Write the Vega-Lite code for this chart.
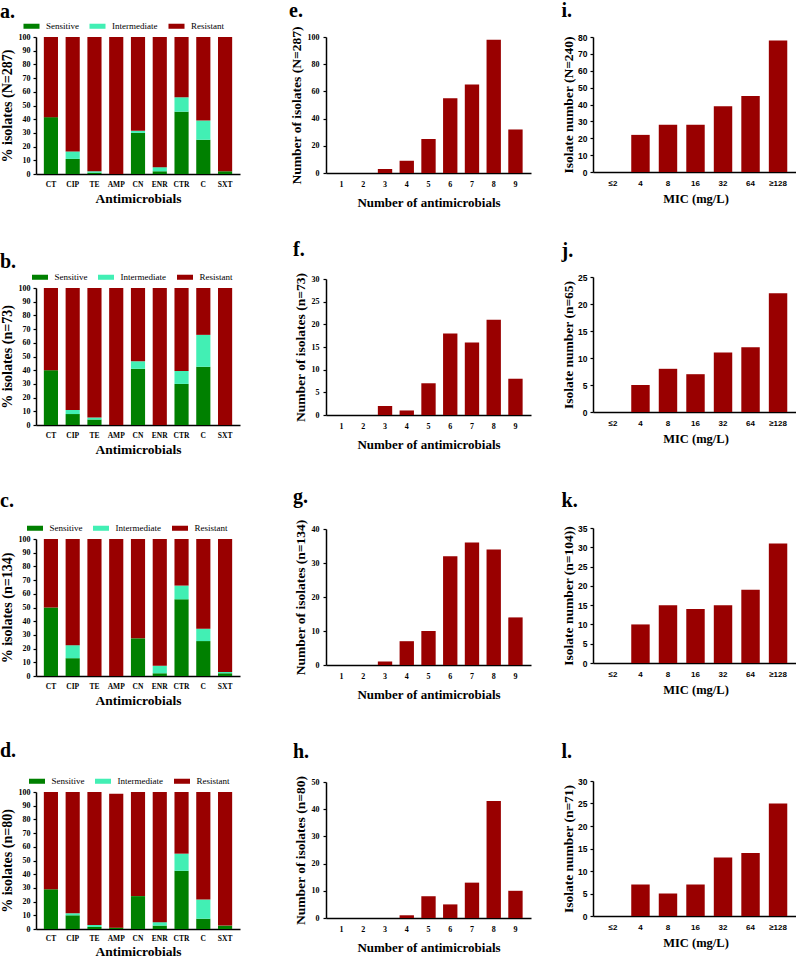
{
  "$schema": "https://vega.github.io/schema/vega-lite/v6.json",
  "padding": {"left": 0, "top": 0, "right": 0, "bottom": 0},
  "background": "white",
  "datasets": {
    "amr": [
      {"panel":"a","drug":"CT","category":"Sensitive","ord":1,"pct":41.5},
      {"panel":"a","drug":"CT","category":"Resistant","ord":3,"pct":58.5},
      {"panel":"a","drug":"CIP","category":"Sensitive","ord":1,"pct":11},
      {"panel":"a","drug":"CIP","category":"Intermediate","ord":2,"pct":5.5},
      {"panel":"a","drug":"CIP","category":"Resistant","ord":3,"pct":83.5},
      {"panel":"a","drug":"TE","category":"Sensitive","ord":1,"pct":1},
      {"panel":"a","drug":"TE","category":"Intermediate","ord":2,"pct":1},
      {"panel":"a","drug":"TE","category":"Resistant","ord":3,"pct":98},
      {"panel":"a","drug":"AMP","category":"Resistant","ord":3,"pct":100},
      {"panel":"a","drug":"CN","category":"Sensitive","ord":1,"pct":30},
      {"panel":"a","drug":"CN","category":"Intermediate","ord":2,"pct":1.5},
      {"panel":"a","drug":"CN","category":"Resistant","ord":3,"pct":68.5},
      {"panel":"a","drug":"ENR","category":"Sensitive","ord":1,"pct":2},
      {"panel":"a","drug":"ENR","category":"Intermediate","ord":2,"pct":3},
      {"panel":"a","drug":"ENR","category":"Resistant","ord":3,"pct":95},
      {"panel":"a","drug":"CTR","category":"Sensitive","ord":1,"pct":45.5},
      {"panel":"a","drug":"CTR","category":"Intermediate","ord":2,"pct":10.5},
      {"panel":"a","drug":"CTR","category":"Resistant","ord":3,"pct":44},
      {"panel":"a","drug":"C","category":"Sensitive","ord":1,"pct":25},
      {"panel":"a","drug":"C","category":"Intermediate","ord":2,"pct":14},
      {"panel":"a","drug":"C","category":"Resistant","ord":3,"pct":61},
      {"panel":"a","drug":"SXT","category":"Sensitive","ord":1,"pct":2},
      {"panel":"a","drug":"SXT","category":"Resistant","ord":3,"pct":98},

      {"panel":"b","drug":"CT","category":"Sensitive","ord":1,"pct":40},
      {"panel":"b","drug":"CT","category":"Resistant","ord":3,"pct":60},
      {"panel":"b","drug":"CIP","category":"Sensitive","ord":1,"pct":8},
      {"panel":"b","drug":"CIP","category":"Intermediate","ord":2,"pct":3},
      {"panel":"b","drug":"CIP","category":"Resistant","ord":3,"pct":89},
      {"panel":"b","drug":"TE","category":"Sensitive","ord":1,"pct":4},
      {"panel":"b","drug":"TE","category":"Intermediate","ord":2,"pct":1.5},
      {"panel":"b","drug":"TE","category":"Resistant","ord":3,"pct":94.5},
      {"panel":"b","drug":"AMP","category":"Resistant","ord":3,"pct":100},
      {"panel":"b","drug":"CN","category":"Sensitive","ord":1,"pct":41},
      {"panel":"b","drug":"CN","category":"Intermediate","ord":2,"pct":5.5},
      {"panel":"b","drug":"CN","category":"Resistant","ord":3,"pct":53.5},
      {"panel":"b","drug":"ENR","category":"Resistant","ord":3,"pct":100},
      {"panel":"b","drug":"CTR","category":"Sensitive","ord":1,"pct":30},
      {"panel":"b","drug":"CTR","category":"Intermediate","ord":2,"pct":9.5},
      {"panel":"b","drug":"CTR","category":"Resistant","ord":3,"pct":60.5},
      {"panel":"b","drug":"C","category":"Sensitive","ord":1,"pct":42.5},
      {"panel":"b","drug":"C","category":"Intermediate","ord":2,"pct":23.3},
      {"panel":"b","drug":"C","category":"Resistant","ord":3,"pct":34.2},
      {"panel":"b","drug":"SXT","category":"Resistant","ord":3,"pct":100},

      {"panel":"c","drug":"CT","category":"Sensitive","ord":1,"pct":50},
      {"panel":"c","drug":"CT","category":"Resistant","ord":3,"pct":50},
      {"panel":"c","drug":"CIP","category":"Sensitive","ord":1,"pct":13},
      {"panel":"c","drug":"CIP","category":"Intermediate","ord":2,"pct":9.5},
      {"panel":"c","drug":"CIP","category":"Resistant","ord":3,"pct":77.5},
      {"panel":"c","drug":"TE","category":"Resistant","ord":3,"pct":100},
      {"panel":"c","drug":"AMP","category":"Resistant","ord":3,"pct":100},
      {"panel":"c","drug":"CN","category":"Sensitive","ord":1,"pct":27.5},
      {"panel":"c","drug":"CN","category":"Resistant","ord":3,"pct":72.5},
      {"panel":"c","drug":"ENR","category":"Sensitive","ord":1,"pct":2},
      {"panel":"c","drug":"ENR","category":"Intermediate","ord":2,"pct":5.5},
      {"panel":"c","drug":"ENR","category":"Resistant","ord":3,"pct":92.5},
      {"panel":"c","drug":"CTR","category":"Sensitive","ord":1,"pct":56},
      {"panel":"c","drug":"CTR","category":"Intermediate","ord":2,"pct":10},
      {"panel":"c","drug":"CTR","category":"Resistant","ord":3,"pct":34},
      {"panel":"c","drug":"C","category":"Sensitive","ord":1,"pct":25.5},
      {"panel":"c","drug":"C","category":"Intermediate","ord":2,"pct":9},
      {"panel":"c","drug":"C","category":"Resistant","ord":3,"pct":65.5},
      {"panel":"c","drug":"SXT","category":"Sensitive","ord":1,"pct":2},
      {"panel":"c","drug":"SXT","category":"Intermediate","ord":2,"pct":1},
      {"panel":"c","drug":"SXT","category":"Resistant","ord":3,"pct":97},

      {"panel":"d","drug":"CT","category":"Sensitive","ord":1,"pct":29},
      {"panel":"d","drug":"CT","category":"Resistant","ord":3,"pct":71},
      {"panel":"d","drug":"CIP","category":"Sensitive","ord":1,"pct":10},
      {"panel":"d","drug":"CIP","category":"Intermediate","ord":2,"pct":1.5},
      {"panel":"d","drug":"CIP","category":"Resistant","ord":3,"pct":88.5},
      {"panel":"d","drug":"TE","category":"Sensitive","ord":1,"pct":1.5},
      {"panel":"d","drug":"TE","category":"Intermediate","ord":2,"pct":1.5},
      {"panel":"d","drug":"TE","category":"Resistant","ord":3,"pct":97},
      {"panel":"d","drug":"AMP","category":"Sensitive","ord":1,"pct":1},
      {"panel":"d","drug":"AMP","category":"Resistant","ord":3,"pct":97.7},
      {"panel":"d","drug":"CN","category":"Sensitive","ord":1,"pct":24},
      {"panel":"d","drug":"CN","category":"Resistant","ord":3,"pct":76},
      {"panel":"d","drug":"ENR","category":"Sensitive","ord":1,"pct":2.5},
      {"panel":"d","drug":"ENR","category":"Intermediate","ord":2,"pct":2.5},
      {"panel":"d","drug":"ENR","category":"Resistant","ord":3,"pct":95},
      {"panel":"d","drug":"CTR","category":"Sensitive","ord":1,"pct":42.5},
      {"panel":"d","drug":"CTR","category":"Intermediate","ord":2,"pct":12.5},
      {"panel":"d","drug":"CTR","category":"Resistant","ord":3,"pct":45},
      {"panel":"d","drug":"C","category":"Sensitive","ord":1,"pct":7.5},
      {"panel":"d","drug":"C","category":"Intermediate","ord":2,"pct":14},
      {"panel":"d","drug":"C","category":"Resistant","ord":3,"pct":78.5},
      {"panel":"d","drug":"SXT","category":"Sensitive","ord":1,"pct":2.5},
      {"panel":"d","drug":"SXT","category":"Resistant","ord":3,"pct":97.5}
    ],
    "nab": [
      {"panel":"e","n":"1","count":0},{"panel":"e","n":"2","count":0},{"panel":"e","n":"3","count":3},
      {"panel":"e","n":"4","count":9},{"panel":"e","n":"5","count":25},{"panel":"e","n":"6","count":55},
      {"panel":"e","n":"7","count":65},{"panel":"e","n":"8","count":98},{"panel":"e","n":"9","count":32},
      {"panel":"f","n":"1","count":0},{"panel":"f","n":"2","count":0},{"panel":"f","n":"3","count":2},
      {"panel":"f","n":"4","count":1},{"panel":"f","n":"5","count":7},{"panel":"f","n":"6","count":18},
      {"panel":"f","n":"7","count":16},{"panel":"f","n":"8","count":21},{"panel":"f","n":"9","count":8},
      {"panel":"g","n":"1","count":0},{"panel":"g","n":"2","count":0},{"panel":"g","n":"3","count":1},
      {"panel":"g","n":"4","count":7},{"panel":"g","n":"5","count":10},{"panel":"g","n":"6","count":32},
      {"panel":"g","n":"7","count":36},{"panel":"g","n":"8","count":34},{"panel":"g","n":"9","count":14},
      {"panel":"h","n":"1","count":0},{"panel":"h","n":"2","count":0},{"panel":"h","n":"3","count":0},
      {"panel":"h","n":"4","count":1},{"panel":"h","n":"5","count":8},{"panel":"h","n":"6","count":5},
      {"panel":"h","n":"7","count":13},{"panel":"h","n":"8","count":43},{"panel":"h","n":"9","count":10}
    ],
    "mic": [
      {"panel":"i","mic":"≤2","count":0},{"panel":"i","mic":"4","count":22},{"panel":"i","mic":"8","count":28},
      {"panel":"i","mic":"16","count":28},{"panel":"i","mic":"32","count":39},{"panel":"i","mic":"64","count":45},
      {"panel":"i","mic":"≥128","count":78},
      {"panel":"j","mic":"≤2","count":0},{"panel":"j","mic":"4","count":5},{"panel":"j","mic":"8","count":8},
      {"panel":"j","mic":"16","count":7},{"panel":"j","mic":"32","count":11},{"panel":"j","mic":"64","count":12},
      {"panel":"j","mic":"≥128","count":22},
      {"panel":"k","mic":"≤2","count":0},{"panel":"k","mic":"4","count":10},{"panel":"k","mic":"8","count":15},
      {"panel":"k","mic":"16","count":14},{"panel":"k","mic":"32","count":15},{"panel":"k","mic":"64","count":19},
      {"panel":"k","mic":"≥128","count":31},
      {"panel":"l","mic":"≤2","count":0},{"panel":"l","mic":"4","count":7},{"panel":"l","mic":"8","count":5},
      {"panel":"l","mic":"16","count":7},{"panel":"l","mic":"32","count":13},{"panel":"l","mic":"64","count":14},
      {"panel":"l","mic":"≥128","count":25}
    ]
  },
  "resolve": {"scale": {"color": "independent"}, "legend": {"color": "independent"}},
  "spacing": 48,
  "hconcat": [
    {
      "spacing": 47,
      "resolve": {"scale": {"color": "independent"}, "legend": {"color": "independent"}},
      "vconcat": [
        {
          "width": 204, "height": 137,
          "title": {"text": "a.", "offset": 0},
          "data": {"name": "amr"},
          "transform": [{"filter": "datum.panel === 'a'"}],
          "mark": {"type": "bar"},
          "encoding": {
            "x": {"field": "drug", "type": "nominal", "sort": ["CT","CIP","TE","AMP","CN","ENR","CTR","C","SXT"], "scale": {"paddingInner": 0.35, "paddingOuter": 0.36}, "axis": {"title": "Antimicrobials", "labelFontSize": 7.5, "labelPadding": 6, "titleFontSize": 13.5, "titlePadding": 4}},
            "y": {"field": "pct", "type": "quantitative", "stack": "zero", "scale": {"domain": [0, 100], "nice": false}, "axis": {"title": "% isolates (N=287)", "values": [0,10,20,30,40,50,60,70,80,90,100], "labelFontSize": 8, "titleFontSize": 14, "titlePadding": 4}},
            "color": {"field": "category", "type": "nominal", "scale": {"domain": ["Sensitive","Intermediate","Resistant"], "range": ["#008000","#42EFB4","#990000"]}, "legend": {"legendX": -9, "legendY": -15.5}},
            "order": {"field": "ord", "type": "quantitative"}
          }
        },
        {
          "spacing": 35,
          "resolve": {"scale": {"color": "independent"}, "legend": {"color": "independent"}},
          "vconcat": [
            {
              "width": 204, "height": 137,
              "title": {"text": "b.", "offset": 0.5},
              "data": {"name": "amr"},
              "transform": [{"filter": "datum.panel === 'b'"}],
              "mark": {"type": "bar"},
              "encoding": {
                "x": {"field": "drug", "type": "nominal", "sort": ["CT","CIP","TE","AMP","CN","ENR","CTR","C","SXT"], "scale": {"paddingInner": 0.35, "paddingOuter": 0.36}, "axis": {"title": "Antimicrobials", "labelFontSize": 7.5, "labelPadding": 6, "titleFontSize": 13.5, "titlePadding": 4}},
                "y": {"field": "pct", "type": "quantitative", "stack": "zero", "scale": {"domain": [0, 100], "nice": false}, "axis": {"title": "% isolates (n=73)", "values": [0,10,20,30,40,50,60,70,80,90,100], "labelFontSize": 8, "titleFontSize": 14, "titlePadding": 4}},
                "color": {"field": "category", "type": "nominal", "scale": {"domain": ["Sensitive","Intermediate","Resistant"], "range": ["#008000","#42EFB4","#990000"]}, "legend": {"legendX": -0.5, "legendY": -15.5}},
                "order": {"field": "ord", "type": "quantitative"}
              }
            },
            {
              "spacing": 34,
              "resolve": {"scale": {"color": "independent"}, "legend": {"color": "independent"}},
              "vconcat": [
                {
                  "width": 204, "height": 137,
                  "title": {"text": "c.", "offset": 12.5},
                  "data": {"name": "amr"},
                  "transform": [{"filter": "datum.panel === 'c'"}],
                  "mark": {"type": "bar"},
                  "encoding": {
                    "x": {"field": "drug", "type": "nominal", "sort": ["CT","CIP","TE","AMP","CN","ENR","CTR","C","SXT"], "scale": {"paddingInner": 0.35, "paddingOuter": 0.36}, "axis": {"title": "Antimicrobials", "labelFontSize": 7.5, "labelPadding": 6, "titleFontSize": 13.5, "titlePadding": 4}},
                    "y": {"field": "pct", "type": "quantitative", "stack": "zero", "scale": {"domain": [0, 100], "nice": false}, "axis": {"title": "% isolates (n=134)", "values": [0,10,20,30,40,50,60,70,80,90,100], "labelFontSize": 8, "titleFontSize": 14, "titlePadding": 4}},
                    "color": {"field": "category", "type": "nominal", "scale": {"domain": ["Sensitive","Intermediate","Resistant"], "range": ["#008000","#42EFB4","#990000"]}, "legend": {"legendX": -5.5, "legendY": -15.5}},
                    "order": {"field": "ord", "type": "quantitative"}
                  }
                },
                {
                  "width": 204, "height": 137,
                  "title": {"text": "d.", "offset": 15.5},
                  "data": {"name": "amr"},
                  "transform": [{"filter": "datum.panel === 'd'"}],
                  "mark": {"type": "bar"},
                  "encoding": {
                    "x": {"field": "drug", "type": "nominal", "sort": ["CT","CIP","TE","AMP","CN","ENR","CTR","C","SXT"], "scale": {"paddingInner": 0.35, "paddingOuter": 0.36}, "axis": {"title": "Antimicrobials", "labelFontSize": 7.5, "labelPadding": 5, "titleFontSize": 13.5, "titlePadding": 3}},
                    "y": {"field": "pct", "type": "quantitative", "stack": "zero", "scale": {"domain": [0, 100], "nice": false}, "axis": {"title": "% isolates (n=80)", "values": [0,10,20,30,40,50,60,70,80,90,100], "labelFontSize": 8, "titleFontSize": 14, "titlePadding": 4}},
                    "color": {"field": "category", "type": "nominal", "scale": {"domain": ["Sensitive","Intermediate","Resistant"], "range": ["#008000","#42EFB4","#990000"]}, "legend": {"legendX": -3.5, "legendY": -15.5}},
                    "order": {"field": "ord", "type": "quantitative"}
                  }
                }
              ]
            }
          ]
        }
      ]
    },
    {
      "spacing": 30,
      "hconcat": [
        {
          "spacing": 29,
          "vconcat": [
            {
              "width": 205, "height": 136,
              "title": {"text": "e.", "offset": 5},
              "data": {"name": "nab"},
              "transform": [{"filter": "datum.panel === 'e'"}],
              "mark": {"type": "bar", "color": "#990000"},
              "encoding": {
                "x": {"field": "n", "type": "ordinal", "scale": {"paddingInner": 0.34, "paddingOuter": 0.385}, "axis": {"title": "Number of antimicrobials", "labelFontSize": 8, "labelPadding": 7.5, "titleFontSize": 13, "titlePadding": 8}},
                "y": {"field": "count", "type": "quantitative", "scale": {"domain": [0, 100], "nice": false}, "axis": {"title": "Number of isolates (N=287)", "values": [0,20,40,60,80,100], "labelFontSize": 8, "labelPadding": 4, "titleFontSize": 13.5, "titlePadding": 4}}
              }
            },
            {
              "spacing": 35,
              "vconcat": [
                {
                  "width": 205, "height": 136,
                  "title": {"text": "f.", "offset": 12.5},
                  "data": {"name": "nab"},
                  "transform": [{"filter": "datum.panel === 'f'"}],
                  "mark": {"type": "bar", "color": "#990000"},
                  "encoding": {
                    "x": {"field": "n", "type": "ordinal", "scale": {"paddingInner": 0.34, "paddingOuter": 0.385}, "axis": {"title": "Number of antimicrobials", "labelFontSize": 8, "labelPadding": 7.5, "titleFontSize": 13, "titlePadding": 8}},
                    "y": {"field": "count", "type": "quantitative", "scale": {"domain": [0, 30], "nice": false}, "axis": {"title": "Number of isolates (n=73)", "values": [0,5,10,15,20,25,30], "labelFontSize": 8, "labelPadding": 4, "titleFontSize": 13.5, "titlePadding": 4}}
                  }
                },
                {
                  "spacing": 39,
                  "vconcat": [
                    {
                      "width": 205, "height": 136,
                      "title": {"text": "g.", "offset": 12},
                      "data": {"name": "nab"},
                      "transform": [{"filter": "datum.panel === 'g'"}],
                      "mark": {"type": "bar", "color": "#990000"},
                      "encoding": {
                        "x": {"field": "n", "type": "ordinal", "scale": {"paddingInner": 0.34, "paddingOuter": 0.385}, "axis": {"title": "Number of antimicrobials", "labelFontSize": 8, "labelPadding": 7.5, "titleFontSize": 13, "titlePadding": 8}},
                        "y": {"field": "count", "type": "quantitative", "scale": {"domain": [0, 40], "nice": false}, "axis": {"title": "Number of isolates (n=134)", "values": [0,10,20,30,40], "labelFontSize": 8, "labelPadding": 4, "titleFontSize": 13.5, "titlePadding": 4}}
                      }
                    },
                    {
                      "width": 205, "height": 136,
                      "title": {"text": "h.", "offset": 13.5},
                      "data": {"name": "nab"},
                      "transform": [{"filter": "datum.panel === 'h'"}],
                      "mark": {"type": "bar", "color": "#990000"},
                      "encoding": {
                        "x": {"field": "n", "type": "ordinal", "scale": {"paddingInner": 0.34, "paddingOuter": 0.385}, "axis": {"title": "Number of antimicrobials", "labelFontSize": 8, "labelPadding": 7.5, "titleFontSize": 13, "titlePadding": 8}},
                        "y": {"field": "count", "type": "quantitative", "scale": {"domain": [0, 50], "nice": false}, "axis": {"title": "Number of isolates (n=80)", "values": [0,10,20,30,40,50], "labelFontSize": 8, "labelPadding": 4, "titleFontSize": 13.5, "titlePadding": 4}}
                      }
                    }
                  ]
                }
              ]
            }
          ]
        },
        {
          "spacing": 35,
          "vconcat": [
            {
              "width": 205, "height": 135,
              "title": {"text": "i.", "offset": 12.5},
              "data": {"name": "mic"},
              "transform": [{"filter": "datum.panel === 'i'"}],
              "mark": {"type": "bar", "color": "#990000"},
              "encoding": {
                "x": {"field": "mic", "type": "ordinal", "sort": ["≤2","4","8","16","32","64","≥128"], "scale": {"paddingInner": 0.33, "paddingOuter": 0.39}, "axis": {"title": "MIC (mg/L)", "labelFont": "Liberation Sans", "labelFontSize": 8, "labelPadding": 7.5, "titleFontSize": 12.5, "titlePadding": 4.5}},
                "y": {"field": "count", "type": "quantitative", "scale": {"domain": [0, 80], "nice": false}, "axis": {"title": "Isolate number (N=240)", "values": [0,10,20,30,40,50,60,70,80], "labelFont": "Liberation Sans", "labelFontSize": 8.5, "labelPadding": 3, "titleFontSize": 13.5, "titlePadding": 2}}
              }
            },
            {
              "spacing": 45,
              "vconcat": [
                {
                  "width": 205, "height": 135,
                  "title": {"text": "j.", "offset": 12.5},
                  "data": {"name": "mic"},
                  "transform": [{"filter": "datum.panel === 'j'"}],
                  "mark": {"type": "bar", "color": "#990000"},
                  "encoding": {
                    "x": {"field": "mic", "type": "ordinal", "sort": ["≤2","4","8","16","32","64","≥128"], "scale": {"paddingInner": 0.33, "paddingOuter": 0.39}, "axis": {"title": "MIC (mg/L)", "labelFont": "Liberation Sans", "labelFontSize": 8, "labelPadding": 7.5, "titleFontSize": 12.5, "titlePadding": 4.5}},
                    "y": {"field": "count", "type": "quantitative", "scale": {"domain": [0, 25], "nice": false}, "axis": {"title": "Isolate number (n=65)", "values": [0,5,10,15,20,25], "labelFont": "Liberation Sans", "labelFontSize": 8.5, "labelPadding": 3, "titleFontSize": 13.5, "titlePadding": 2}}
                  }
                },
                {
                  "width": 205, "height": 135,
                  "title": {"text": "k.", "offset": 13.5},
                  "data": {"name": "mic"},
                  "transform": [{"filter": "datum.panel === 'k'"}],
                  "mark": {"type": "bar", "color": "#990000"},
                  "encoding": {
                    "x": {"field": "mic", "type": "ordinal", "sort": ["≤2","4","8","16","32","64","≥128"], "scale": {"paddingInner": 0.33, "paddingOuter": 0.39}, "axis": {"title": "MIC (mg/L)", "labelFont": "Liberation Sans", "labelFontSize": 8, "labelPadding": 7.5, "titleFontSize": 12.5, "titlePadding": 4.5}},
                    "y": {"field": "count", "type": "quantitative", "scale": {"domain": [0, 35], "nice": false}, "axis": {"title": "Isolate number (n=104))", "values": [0,5,10,15,20,25,30,35], "labelFont": "Liberation Sans", "labelFontSize": 8.5, "labelPadding": 3, "titleFontSize": 13.5, "titlePadding": 2}}
                  }
                },
                {
                  "width": 205, "height": 135,
                  "title": {"text": "l.", "offset": 15.5},
                  "data": {"name": "mic"},
                  "transform": [{"filter": "datum.panel === 'l'"}],
                  "mark": {"type": "bar", "color": "#990000"},
                  "encoding": {
                    "x": {"field": "mic", "type": "ordinal", "sort": ["≤2","4","8","16","32","64","≥128"], "scale": {"paddingInner": 0.33, "paddingOuter": 0.39}, "axis": {"title": "MIC (mg/L)", "labelFont": "Liberation Sans", "labelFontSize": 8, "labelPadding": 7.5, "titleFontSize": 12.5, "titlePadding": 4.5}},
                    "y": {"field": "count", "type": "quantitative", "scale": {"domain": [0, 30], "nice": false}, "axis": {"title": "Isolate number (n=71)", "values": [0,5,10,15,20,25,30], "labelFont": "Liberation Sans", "labelFontSize": 8.5, "labelPadding": 3, "titleFontSize": 13.5, "titlePadding": 2}}
                  }
                }
              ]
            }
          ]
        }
      ]
    }
  ],
  "config": {
    "view": {"stroke": null},
    "axis": {"grid": false, "domainColor": "black", "domainWidth": 1.5, "tickColor": "black", "tickWidth": 1.2, "labelColor": "black", "titleColor": "black", "labelFont": "Liberation Serif", "titleFont": "Liberation Serif", "labelFontWeight": "bold", "titleFontWeight": "bold"},
    "axisX": {"ticks": false, "tickSize": 0, "labelAngle": 0},
    "axisY": {"tickSize": 3, "labelPadding": 3},
    "legend": {"orient": "none", "direction": "horizontal", "title": null, "symbolType": "M-1.78,-0.56H1.78V0.56H-1.78Z", "symbolSize": 81, "symbolStrokeWidth": 0, "labelFont": "Liberation Serif", "labelFontSize": 9, "labelColor": "black", "labelOffset": 10, "columnPadding": 10, "padding": 0},
    "title": {"font": "Liberation Serif", "fontWeight": "bold", "fontSize": 20, "anchor": "start", "frame": "bounds", "color": "black"}
  }
}
